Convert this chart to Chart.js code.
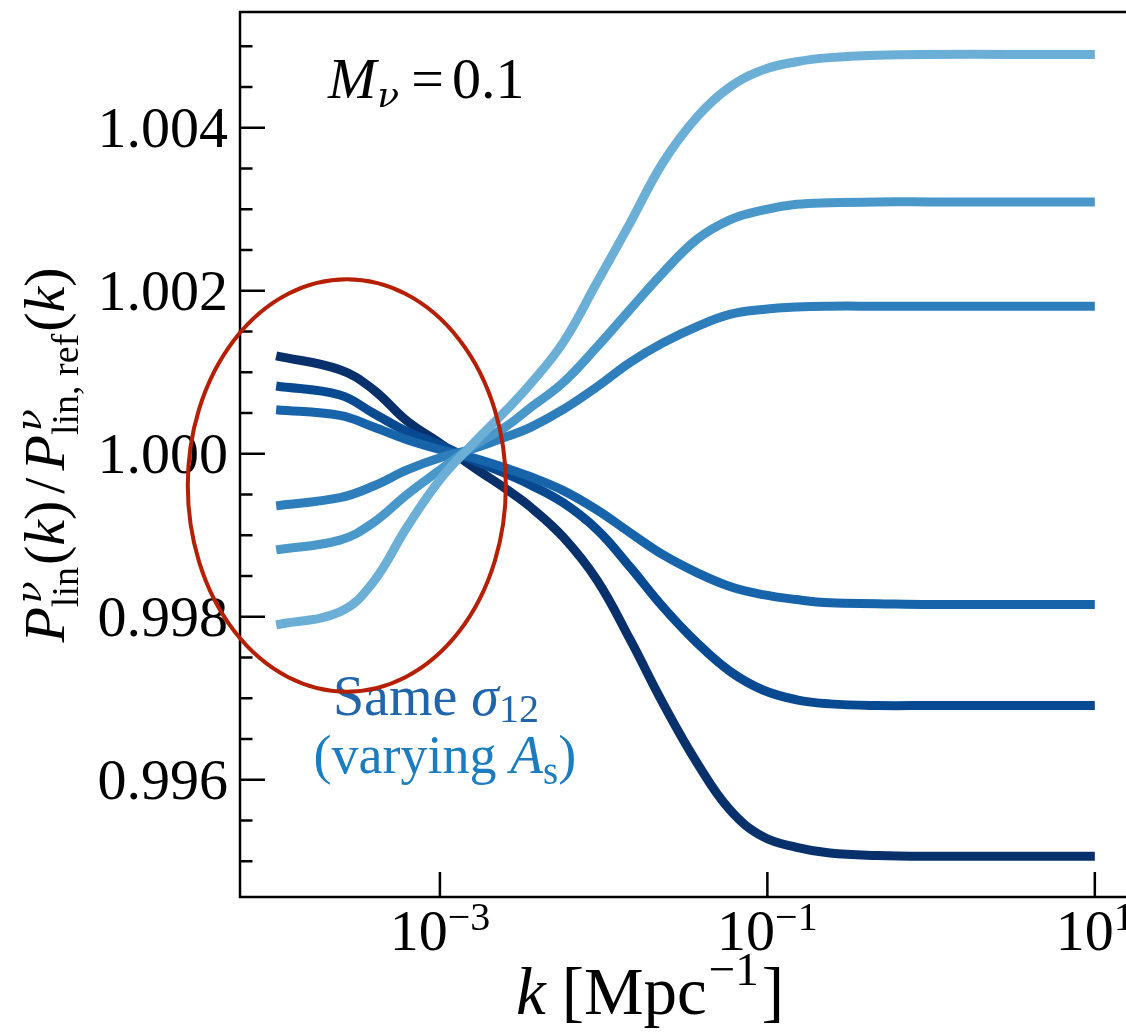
<!DOCTYPE html>
<html><head><meta charset="utf-8">
<script src="https://cdn.jsdelivr.net/npm/chart.js@4"></script>
<style>html,body{margin:0;padding:0;overflow:hidden;background:#fff}#wrap{width:1160px;height:1033px}</style>
</head><body><div id="wrap"><canvas id="c" width="1160" height="1033"></canvas></div>
<script>
// ---- data ----
const kValues = [1e-4, 2.45e-4, 3.9e-4, 6.3e-4, 1e-3, 1.59e-3, 2.56e-3, 3.55e-3, 5.64e-3, 9.1e-3, 1.45e-2, 2.3e-2, 3.71e-2, 5.9e-2, 9.4e-2, 0.151, 0.241, 0.467, 1, 3, 10];
const ratio1 = [0.99790, 0.99806, 0.99842, 0.99910, 0.99968, 1.00012, 1.00054, 1.00085, 1.00136, 1.00210, 1.00283, 1.00357, 1.00413, 1.00450, 1.00471, 1.00481, 1.00486, 1.00489, 1.00490, 1.00490, 1.00490];
const ratio2 = [0.99882, 0.99894, 0.99915, 0.99950, 0.99980, 1.00009, 1.00034, 1.00056, 1.00087, 1.00131, 1.00177, 1.00222, 1.00263, 1.00287, 1.00299, 1.00306, 1.00308, 1.00309, 1.00309, 1.00309, 1.00309];
const ratio3 = [0.99936, 0.99946, 0.99960, 0.99980, 0.99995, 1.00006, 1.00021, 1.00032, 1.00054, 1.00082, 1.00112, 1.00136, 1.00156, 1.00171, 1.00177, 1.00180, 1.00181, 1.00181, 1.00181, 1.00181, 1.00181];
const ratio4 = [1.00054, 1.00047, 1.00033, 1.00017, 1.00005, 0.99995, 0.99982, 0.99972, 0.99955, 0.99931, 0.99903, 0.99876, 0.99854, 0.99837, 0.99827, 0.99821, 0.99817, 0.99816, 0.99815, 0.99815, 0.99815];
const ratio5 = [1.00083, 1.00072, 1.00050, 1.00027, 1.00011, 0.99992, 0.99975, 0.99962, 0.99940, 0.99907, 0.99861, 0.99812, 0.99768, 0.99733, 0.99710, 0.99698, 0.99693, 0.99691, 0.99691, 0.99691, 0.99691];
const ratio6 = [1.00120, 1.00103, 1.00079, 1.00040, 1.00013, 0.99984, 0.99956, 0.99935, 0.99898, 0.99845, 0.99772, 0.99694, 0.99621, 0.99563, 0.99530, 0.99517, 0.99510, 0.99507, 0.99506, 0.99506, 0.99506];
const seriesList = [ratio1, ratio2, ratio3, ratio4, ratio5, ratio6];
const seriesColors = ['#6baed6', '#4a98c9', '#2e7ebc', '#1764ab', '#084a91', '#08306b'];

const yMajorTicks = [0.996, 0.998, 1.000, 1.002, 1.004];
const yMinorTicks = [0.9950, 0.9955, 0.9965, 0.9970, 0.9975, 0.9985, 0.9990, 0.9995, 1.0005, 1.0010, 1.0015, 1.0025, 1.0030, 1.0035, 1.0045, 1.0050];
const xTicks = [1e-3, 1e-1, 1e1];
const xTickExp = ['\u22123', '\u22121', '1'];
const xRange = [Math.pow(10, -4.221), Math.pow(10, 1.221)];
const yRange = [0.99456, 1.00542];
// annotation ellipse bounds (k left, k right) and (value bottom, value top)
const ellipseK = [Math.pow(10, -4.54), Math.pow(10, -2.597)];
const ellipseV = [0.99708, 1.00214];

const FAM = '"Liberation Serif", "Times New Roman", serif';
function fnt(s){ return (s.it ? 'italic ' : '') + (s.size || 58) + 'px ' + (s.fam || FAM); }
function rich(ctx, items, x, y, align){
  let w = 0; const widths = [];
  for (const it of items){
    let iw;
    if (it.stack){ iw = Math.max(...it.stack.map(s => { ctx.font = fnt(s); return ctx.measureText(s.t).width + (s.pre||0); })); }
    else { ctx.font = fnt(it); iw = ctx.measureText(it.t).width; }
    iw += (it.pre || 0) + (it.post || 0);
    widths.push(iw); w += iw;
  }
  let cx = align === 'center' ? x - w / 2 : (align === 'right' ? x - w : x);
  ctx.textAlign = 'left'; ctx.textBaseline = 'alphabetic';
  items.forEach((it, i) => {
    const px = cx + (it.pre || 0);
    const parts = it.stack || [it];
    for (const s of parts){ ctx.font = fnt(s); ctx.fillText(s.t, px + (it.stack ? (s.pre||0) : 0), y + (s.dy || 0)); }
    cx += widths[i];
  });
}
const NU = '"DejaVu Serif", serif';

const decor = {
  id: 'decor',
  afterDatasetsDraw(chart){
    const {ctx, chartArea: a, scales: {x, y}} = chart;
    ctx.save();
    // frame
    ctx.strokeStyle = '#000'; ctx.lineWidth = 2.5;
    ctx.strokeRect(a.left, a.top, a.right - a.left, a.bottom - a.top);
    // ticks (inward, left and bottom only)
    ctx.beginPath();
    for (const v of yMajorTicks){ const p = y.getPixelForValue(v); ctx.moveTo(a.left, p); ctx.lineTo(a.left + 25, p); }
    for (const v of yMinorTicks){ const p = y.getPixelForValue(v); ctx.moveTo(a.left, p); ctx.lineTo(a.left + 12.5, p); }
    for (const v of xTicks){ const p = x.getPixelForValue(v); ctx.moveTo(p, a.bottom); ctx.lineTo(p, a.bottom - 25); }
    ctx.stroke();
    // y tick labels
    ctx.fillStyle = '#000';
    ctx.font = fnt({}); ctx.textAlign = 'right'; ctx.textBaseline = 'alphabetic';
    for (const v of yMajorTicks){ const p = y.getPixelForValue(v); ctx.fillText(v.toFixed(3), a.left - 12, p + 19); }
    // x tick labels
    xTicks.forEach((v, i) => {
      const p = x.getPixelForValue(v);
      rich(ctx, [{t: '10'}, {t: xTickExp[i], size: 40, dy: -20}], p, a.bottom + 53, 'center');
    });
    // x label
    rich(ctx, [{t: 'k', it: 1, size: 67}, {t: '[', pre: 16, size: 67}, {t: 'Mpc', size: 67}, {t: '\u22121', size: 47, dy: -29, pre: 2}, {t: ']', size: 67, pre: 3}], 650, a.bottom + 117, 'center');
    // y label
    ctx.save();
    ctx.translate(64, 455); ctx.rotate(-Math.PI / 2);
    rich(ctx, [
      {t: 'P', it: 1},
      {stack: [{t: '\u03bd', it: 1, size: 36, dy: -23, pre: 4, fam: NU}, {t: 'lin', size: 38, dy: 14}], post: 2},
      {t: '('}, {t: 'k', it: 1}, {t: ')'},
      {t: '/', pre: 7, post: 7},
      {t: 'P', it: 1},
      {stack: [{t: '\u03bd', it: 1, size: 36, dy: -23, pre: 4, fam: NU}, {t: 'lin, ref', size: 38, dy: 14}], post: 2},
      {t: '('}, {t: 'k', it: 1}, {t: ')'}
    ], 0, 0, 'center');
    ctx.restore();
    // M_nu label
    rich(ctx, [{t: 'M', it: 1}, {t: '\u03bd', it: 1, size: 36, dy: 9, fam: NU, pre: 1}, {t: '=', pre: 12, post: 8}, {t: '0.1'}], 328, 98, 'left');
    // annotation text
    const tx = x.getPixelForValue(1e-3);
    ctx.fillStyle = '#2064aa';
    rich(ctx, [{t: 'Same ', size: 56}, {t: '\u03c3', it: 1, size: 56}, {t: '12', size: 40, dy: 7}], tx - 4, y.getPixelForValue(0.99679), 'center');
    ctx.fillStyle = '#1b7cc0';
    rich(ctx, [{t: '(varying ', size: 54}, {t: 'A', it: 1, size: 54}, {t: 's', size: 39, dy: 11}, {t: ')', size: 54}], tx + 5, y.getPixelForValue(0.99608), 'center');
    // ellipse
    const L = x.getPixelForValue(ellipseK[0]), R = x.getPixelForValue(ellipseK[1]);
    const T = y.getPixelForValue(ellipseV[1]), B = y.getPixelForValue(ellipseV[0]);
    ctx.beginPath(); ctx.ellipse((L + R) / 2, (T + B) / 2, (R - L) / 2, (B - T) / 2, 0, 0, 2 * Math.PI);
    ctx.strokeStyle = '#b51f03'; ctx.lineWidth = 4; ctx.stroke();
    ctx.restore();
  }
};

new Chart(document.getElementById('c').getContext('2d'), {
  type: 'line',
  data: {
    datasets: seriesList.map((s, i) => ({
      label: 'series ' + (i + 1),
      data: kValues.map((k, j) => ({x: k, y: s[j]})),
      borderColor: seriesColors[i], borderWidth: 9, pointRadius: 0,
      tension: 0.4, fill: false
    }))
  },
  options: {
    responsive: false, animation: false, events: [],
    layout: {padding: {top: 12, right: 29, left: 0, bottom: 0}},
    plugins: {legend: {display: false}, tooltip: {enabled: false}},
    scales: {
      x: {type: 'logarithmic', min: xRange[0], max: xRange[1], grid: {display: false}, border: {display: false},
          ticks: {display: false}, afterBuildTicks: s => { s.ticks = xTicks.map(v => ({value: v})); }, afterFit: s => { s.height = 136; }},
      y: {type: 'linear', min: yRange[0], max: yRange[1], grid: {display: false}, border: {display: false},
          ticks: {display: false}, afterBuildTicks: s => { s.ticks = yMajorTicks.map(v => ({value: v})); }, afterFit: s => { s.width = 240; }}
    }
  },
  plugins: [decor]
});
</script></body></html>
